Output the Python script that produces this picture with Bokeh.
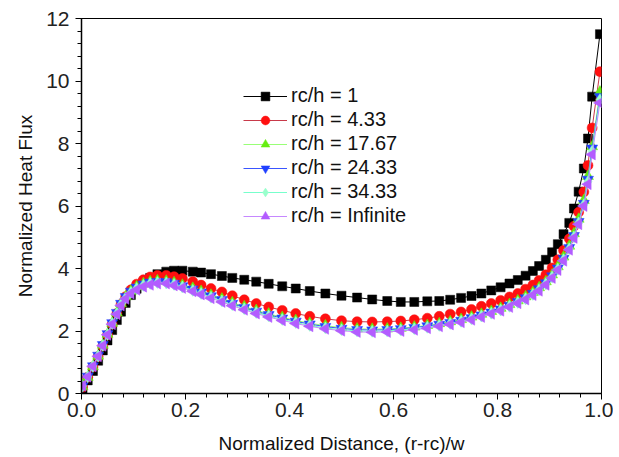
import numpy as np
from bokeh.plotting import figure
from bokeh.models import Legend, LegendItem, FixedTicker, NumeralTickFormatter
from bokeh.embed import file_html
from bokeh.resources import INLINE

x = [0.002, 0.012, 0.022, 0.032, 0.041, 0.050, 0.059, 0.068, 0.076, 0.085,
     0.095, 0.106, 0.119, 0.132, 0.146,
     0.163, 0.178, 0.194, 0.214, 0.230, 0.249, 0.270, 0.290, 0.313, 0.336,
     0.360, 0.386, 0.412, 0.439, 0.469, 0.500, 0.530, 0.559, 0.588, 0.614,
     0.640, 0.665, 0.688, 0.709, 0.730, 0.750, 0.769, 0.788, 0.806, 0.823, 0.839,
     0.854, 0.868, 0.880, 0.893, 0.905, 0.916, 0.927, 0.938, 0.947, 0.956,
     0.966, 0.974, 0.982, 0.997]

rc_1 = [0.15, 0.42, 0.72, 1.05, 1.38, 1.7, 2.03, 2.35, 2.62, 2.9, 3.15, 3.35, 3.55, 3.7, 3.82,
        3.9, 3.93, 3.93, 3.9, 3.87, 3.82, 3.76, 3.70, 3.64, 3.58, 3.51, 3.43, 3.36, 3.28, 3.20,
        3.13, 3.07, 3.01, 2.96, 2.93, 2.93, 2.95, 2.96, 3.0, 3.06, 3.12, 3.20, 3.30, 3.40, 3.52, 3.63,
        3.77, 3.92, 4.08, 4.28, 4.52, 4.78, 5.10, 5.46, 5.92, 6.46, 7.2, 8.16, 9.5, 11.5]

rc_4_33 = [0.2, 0.52, 0.85, 1.18, 1.52, 1.87, 2.22, 2.56, 2.85, 3.1, 3.32, 3.5, 3.64, 3.73, 3.78,
           3.78, 3.74, 3.68, 3.58, 3.47, 3.36, 3.25, 3.13, 3.0, 2.88, 2.77, 2.66, 2.56, 2.47, 2.39,
           2.33, 2.30, 2.29, 2.30, 2.32, 2.36, 2.41, 2.47, 2.54, 2.61, 2.69, 2.79, 2.88, 2.98, 3.09, 3.20,
           3.34, 3.47, 3.62, 3.80, 4.02, 4.28, 4.58, 4.95, 5.35, 5.8, 6.45, 7.3, 8.5, 10.3]

rc_17_67 = [0.22, 0.52, 0.86, 1.2, 1.55, 1.9, 2.25, 2.58, 2.88, 3.1, 3.28, 3.42, 3.52, 3.58, 3.61,
            3.6, 3.55, 3.47, 3.37, 3.27, 3.15, 3.03, 2.91, 2.78, 2.66, 2.55, 2.44, 2.34, 2.25, 2.17,
            2.11, 2.07, 2.06, 2.07, 2.09, 2.13, 2.18, 2.24, 2.30, 2.37, 2.45, 2.54, 2.63, 2.73, 2.85, 2.97,
            3.10, 3.24, 3.39, 3.58, 3.80, 4.06, 4.37, 4.72, 5.12, 5.58, 6.18, 6.95, 7.9, 9.65]

rc_24_33 = [0.24, 0.55, 0.88, 1.22, 1.56, 1.91, 2.26, 2.59, 2.88, 3.1, 3.27, 3.4, 3.5, 3.56, 3.58,
            3.57, 3.52, 3.44, 3.34, 3.24, 3.12, 3.0, 2.88, 2.75, 2.63, 2.52, 2.41, 2.31, 2.22, 2.14,
            2.08, 2.04, 2.03, 2.04, 2.07, 2.11, 2.16, 2.21, 2.27, 2.34, 2.42, 2.51, 2.60, 2.70, 2.82, 2.94,
            3.06, 3.20, 3.35, 3.54, 3.76, 4.01, 4.32, 4.67, 5.05, 5.5, 6.08, 6.85, 7.85, 9.5]

rc_34_33 = [0.24, 0.54, 0.87, 1.2, 1.54, 1.89, 2.24, 2.56, 2.85, 3.06, 3.23, 3.36, 3.46, 3.52, 3.55,
            3.54, 3.49, 3.41, 3.30, 3.20, 3.08, 2.96, 2.84, 2.71, 2.59, 2.48, 2.37, 2.27, 2.18, 2.10,
            2.04, 2.0, 1.99, 2.0, 2.03, 2.07, 2.12, 2.18, 2.24, 2.31, 2.39, 2.48, 2.57, 2.67, 2.79, 2.91,
            3.03, 3.17, 3.32, 3.51, 3.73, 3.98, 4.28, 4.63, 5.01, 5.46, 6.04, 6.78, 7.75, 9.4]

rc_inf = [0.25, 0.54, 0.87, 1.19, 1.53, 1.88, 2.22, 2.54, 2.82, 3.03, 3.2, 3.32, 3.42, 3.48, 3.52,
          3.52, 3.46, 3.38, 3.27, 3.17, 3.05, 2.93, 2.81, 2.68, 2.56, 2.45, 2.34, 2.24, 2.15, 2.07,
          2.01, 1.97, 1.96, 1.97, 2.0, 2.04, 2.09, 2.15, 2.21, 2.28, 2.36, 2.45, 2.55, 2.65, 2.77, 2.89,
          3.01, 3.15, 3.29, 3.48, 3.70, 3.95, 4.25, 4.6, 4.98, 5.42, 6.0, 6.7, 7.65, 9.3]

labels = ["rc/h = 1", "rc/h = 4.33", "rc/h = 17.67", "rc/h = 24.33", "rc/h = 34.33", "rc/h = Infinite"]
series = [rc_1, rc_4_33, rc_17_67, rc_24_33, rc_34_33, rc_inf]
x_ticks = [0.0, 0.2, 0.4, 0.6, 0.8, 1.0]
y_ticks = [0, 2, 4, 6, 8, 10, 12]

styles = [
    dict(marker="square", size=9, fill="#000000", line="#000000", angle=0.0),
    dict(marker="circle", size=10, fill="#ff1010", line="#c83a4a", angle=0.0),
    dict(marker="triangle", size=11, fill="#66ee11", line="#99ff77", angle=0.0),
    dict(marker="inverted_triangle", size=11, fill="#2040ff", line="#3a55ff", angle=0.0),
    dict(marker="diamond", size=12, fill="#99ffcc", line="#77ffcc", angle=0.0),
    dict(marker="triangle", size=11, fill="#b35cff", line="#c688ff", angle=np.pi / 2),
]

FONT = "Liberation Sans"

p = figure(frame_width=520, frame_height=375, output_backend="svg", toolbar_location=None,
           x_range=(0, 1), y_range=(0, 12),
           min_border_left=81, min_border_top=18, min_border_right=12, min_border_bottom=60)
p.background_fill_color = "white"
p.border_fill_color = "white"
p.outline_line_color = "black"
p.outline_line_width = 1
p.xgrid.grid_line_color = None
p.ygrid.grid_line_color = None

items = []
for vals, lab, st in zip(series, labels, styles):
    r1 = p.line(x, vals, line_color=st["line"], line_width=1)
    r2 = p.scatter(x, vals, marker=st["marker"], size=st["size"], angle=st["angle"],
                   fill_color=st["fill"], line_color=st["fill"], line_width=0.5)
    items.append(LegendItem(label=lab, renderers=[r1, r2]))

legend = Legend(items=items, location=(162, 166), border_line_color=None,
                background_fill_alpha=0, padding=0, margin=0, spacing=1,
                glyph_width=44, glyph_height=22, label_height=22, label_standoff=4,
                label_text_font=FONT, label_text_font_size="20px", label_text_color="#111111")
p.add_layout(legend, "center")

for ax in (p.xaxis[0], p.yaxis[0]):
    ax.axis_line_color = "black"
    ax.axis_line_width = 1.5
    ax.major_tick_line_color = "black"
    ax.minor_tick_line_color = "black"
    ax.major_tick_in = 0
    ax.major_tick_out = 6
    ax.minor_tick_in = 0
    ax.minor_tick_out = 4
    ax.major_label_text_font = FONT
    ax.major_label_text_font_size = "21px"
    ax.major_label_text_color = "#222222"
    ax.axis_label_text_font = FONT
    ax.axis_label_text_font_size = "19px"
    ax.axis_label_text_font_style = "normal"
    ax.axis_label_text_color = "#111111"

p.xaxis[0].ticker = FixedTicker(ticks=x_ticks, minor_ticks=[i * 0.04 for i in range(26)])
p.yaxis[0].ticker = FixedTicker(ticks=y_ticks, minor_ticks=[i * 0.4 for i in range(31)])
p.xaxis[0].formatter = NumeralTickFormatter(format="0.0")
p.xaxis[0].axis_label = "Normalized Distance, (r-rc)/w"
p.yaxis[0].axis_label = "Normalized Heat Flux"
p.xaxis[0].major_label_standoff = 3
p.yaxis[0].major_label_standoff = 6
p.xaxis[0].axis_label_standoff = 13
p.yaxis[0].axis_label_standoff = 7

open("out.html", "w").write(file_html(p, INLINE))
